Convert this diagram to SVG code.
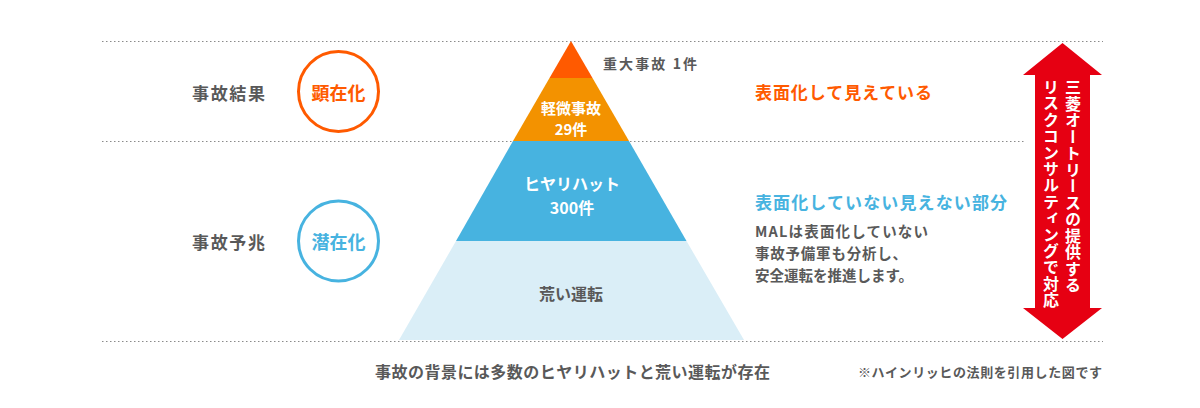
<svg xmlns="http://www.w3.org/2000/svg" width="1200" height="408" viewBox="0 0 1200 408">
<style>
text{font-family:"Noto Sans CJK JP","Noto Sans",sans-serif;font-weight:700}
.g{fill:#595959}
.w{fill:#ffffff}
.dot{stroke:#8a8a8a;stroke-width:1;stroke-dasharray:1.5 2.5;fill:none}
.c{text-anchor:middle;dominant-baseline:central}
</style>
<rect width="1200" height="408" fill="#ffffff"/>
<g id="guides">
<line class="dot" x1="102" y1="41.5" x2="1103" y2="41.5"/>
<line class="dot" x1="102" y1="141.5" x2="1024" y2="141.5"/>
<line class="dot" x1="102" y1="341.5" x2="1103" y2="341.5"/>
</g>
<g id="pyramid">
<polygon id="layer-serious" points="571,41 592.5,78 549.5,78" fill="#FF5A00"/>
<polygon id="layer-minor" points="549.5,78 592.5,78 629,141 513,141" fill="#F39200"/>
<polygon id="layer-nearmiss" points="513,141 629,141 686.5,241 456,241" fill="#47B3E0"/>
<polygon id="layer-rough" points="456,241 686.5,241 744,340 399,340" fill="#DAEEF7"/>
<text class="g" x="603" y="63" font-size="14" dominant-baseline="central" textLength="94">重大事故 1件</text>
<text class="w c" x="571" y="107" font-size="15">軽微事故</text>
<text class="w c" x="571" y="128" font-size="15">29件</text>
<text class="w c" x="572" y="183" font-size="16">ヒヤリハット</text>
<text class="w c" x="572" y="207" font-size="16">300件</text>
<text class="g c" x="571" y="293" font-size="16">荒い運転</text>
</g>
<g id="label-result">
<text class="g" x="192" y="92" font-size="17" dominant-baseline="central" textLength="73">事故結果</text>
</g>
<g id="label-sign">
<text class="g" x="192" y="241" font-size="17" dominant-baseline="central" textLength="73">事故予兆</text>
</g>
<g id="circle-manifest">
<circle cx="338.5" cy="91.5" r="40" fill="#ffffff" stroke="#FF5A00" stroke-width="3"/>
<text class="c" x="338.5" y="91.5" font-size="18" fill="#FF5A00">顕在化</text>
</g>
<g id="circle-latent">
<circle cx="338.5" cy="241" r="40" fill="#ffffff" stroke="#47B3E0" stroke-width="3"/>
<text class="c" x="338.5" y="241" font-size="18" fill="#47B3E0">潜在化</text>
</g>
<g id="desc-visible">
<text x="755" y="91" font-size="17" dominant-baseline="central" fill="#FF5A00" textLength="177">表面化して見えている</text>
</g>
<g id="desc-hidden">
<text x="755" y="201" font-size="17" dominant-baseline="central" fill="#47B3E0" textLength="252">表面化していない見えない部分</text>
<text class="g" x="755" y="230" font-size="14.5" dominant-baseline="central" textLength="173">MALは表面化していない</text>
<text class="g" x="755" y="252" font-size="14.5" dominant-baseline="central" textLength="152">事故予備軍も分析し、</text>
<text class="g" x="755" y="274" font-size="14.5" dominant-baseline="central" textLength="158">安全運転を推進します。</text>
</g>
<g id="arrow">
<polygon points="1062.5,43 1102,75 1090,75 1090,308 1102,308 1062.5,339 1023,308 1035,308 1035,75 1023,75" fill="#E60012"/>
<text x="1073" y="79" font-size="16" fill="#ffffff" writing-mode="vertical-rl" textLength="214">三菱オートリースの提供する</text>
<text x="1051" y="79" font-size="16" fill="#ffffff" writing-mode="vertical-rl" textLength="229">リスクコンサルティングで対応</text>
</g>
<g id="footer">
<text class="g" x="375" y="371" font-size="16" dominant-baseline="central" textLength="395">事故の背景には多数のヒヤリハットと荒い運転が存在</text>
<text class="g" x="858" y="371" font-size="13" dominant-baseline="central" textLength="244">※ハインリッヒの法則を引用した図です</text>
</g>
</svg>
